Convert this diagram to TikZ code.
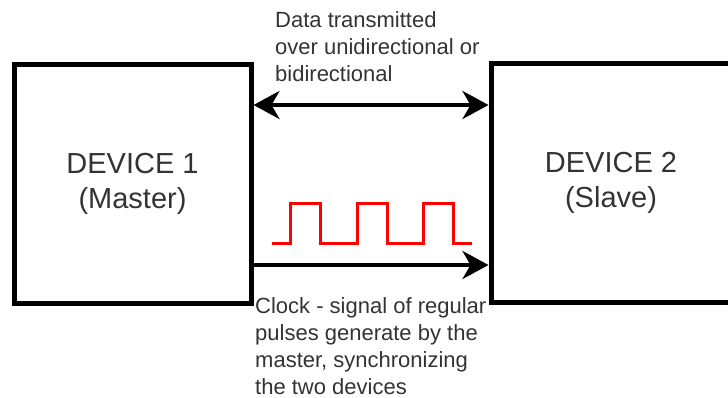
\documentclass[tikz,border=0pt]{standalone}
\usepackage{fontspec}
\setmainfont{Liberation Sans}
\usetikzlibrary{arrows.meta}
\definecolor{txtgray}{HTML}{333333}
\tikzset{
  device/.style={draw, line width=5pt, minimum width=237pt, minimum height=239pt,
    align=center, text=txtgray, font=\fontsize{29}{35}\selectfont},
  link/.style={line width=4pt},
  note/.style={align=left, anchor=north west, inner sep=0pt, text=txtgray,
    font=\fontsize{22}{27}\selectfont}
}
\begin{document}
\begin{tikzpicture}[x=1pt, y=-1pt, >={Stealth[length=26pt,width=28pt,inset=8pt]}]
    \useasboundingbox (0,0) rectangle (728,397);
    \clip (0,0) rectangle (728,397);

    % devices
    \node[device] (dev1) at (132.5,183.5) {DEVICE 1\\(Master)};
    \node[device, minimum width=240pt] (dev2) at (611,183) {DEVICE 2\\(Slave)};

    % data line
    \draw[link, <->] ([yshift=78.5pt]dev1.east) -- ([yshift=78pt]dev2.west);
    \node[note] (datatxt) at (275,11) {Data transmitted\\over unidirectional or\\bidirectional};

    % clock line
    \draw[link, ->] ([yshift=-81.5pt]dev1.east) -- ([yshift=-82pt]dev2.west);
    \node[note] (clktxt) at (255,297) {Clock - signal of regular\\pulses generate by the\\master, synchronizing\\the two devices};

    % clock pulses
    \draw[red, line width=3pt] (272,243) -- (290,243) -- (290,203) -- (320,203) -- (320,243)
        -- (357,243) -- (357,203) -- (387,203) -- (387,243) -- (423,243) -- (423,203)
        -- (453,203) -- (453,243) -- (472,243);
\end{tikzpicture}
\end{document}
